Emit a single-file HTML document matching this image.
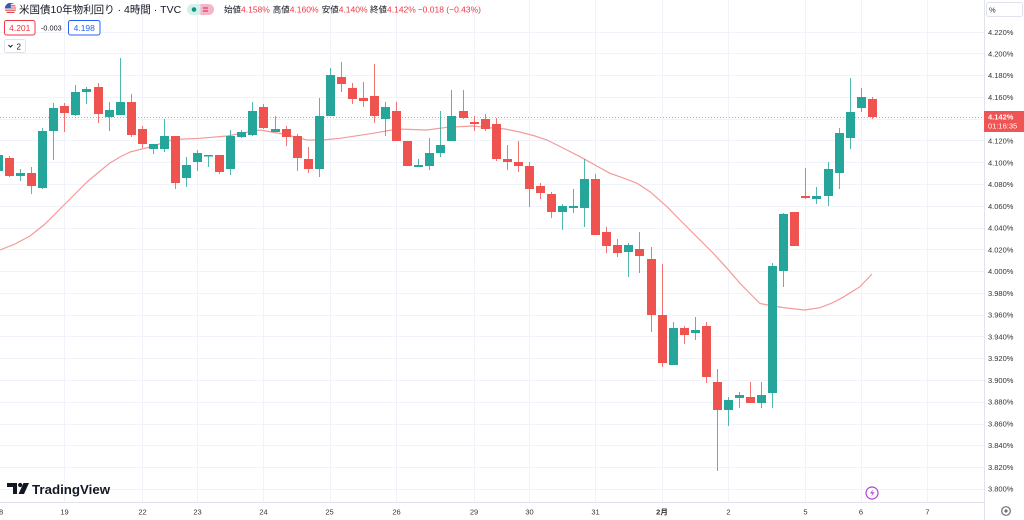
<!DOCTYPE html>
<html><head><meta charset="utf-8"><style>
html,body{margin:0;padding:0;background:#fff;}
body{width:1024px;height:520px;overflow:hidden;}
svg{display:block;}
text{font-family:"Liberation Sans","Noto Sans CJK JP",sans-serif;}
</style></head><body>
<svg width="1024" height="520" viewBox="0 0 1024 520" xmlns="http://www.w3.org/2000/svg">
<rect width="1024" height="520" fill="#fff"/>
<!-- grid -->
<g stroke="#f0f3fa" stroke-width="1" fill="none">
<path d="M0 32.5H984M0 53.5H984M0 75.5H984M0 97.5H984M0 119.5H984M0 140.5H984M0 162.5H984M0 184.5H984M0 206.5H984M0 228.5H984M0 249.5H984M0 271.5H984M0 293.5H984M0 315.5H984M0 336.5H984M0 358.5H984M0 380.5H984M0 402.5H984M0 424.5H984M0 445.5H984M0 467.5H984M0 489.5H984"/>
<path d="M64.5 0V502M142.5 0V502M197.5 0V502M263.5 0V502M330.5 0V502M396.5 0V502M474.5 0V502M529.5 0V502M595.5 0V502M662.5 0V502M728.5 0V502M805.5 0V502M861.5 0V502M927.5 0V502"/>
</g>
<!-- MA line -->
<polyline fill="none" stroke="#f49a9a" stroke-width="1.2" points="0,250 15,244 30,236 45,224 60,209 73,196 87,182 100,171 110,163 120,157 130,152 150,147 173,139.5 200,138.3 227,136 250,131.7 260,130 283,134 307,140 323,140 340,138.3 373,133.3 397,129 427,130 447,127.3 473,126 490,127.7 505,129 520,132 535,136 547,140 563,148 580,156.7 595,165 610,173.3 625,178.5 637,183.3 650,191.7 667,206.7 680,220 693,233 713,253 727,268.3 740,283.3 750,293.5 760,303.5 773,306 783,307.5 795,309 805,310 820,307.7 832,303 843,297.3 860,286.7 872,274"/>
<!-- price line -->
<path d="M0 117.5H984" stroke="#f5949b" stroke-width="1" stroke-dasharray="1 2"/>
<!-- wicks -->
<path stroke="#26a69a" stroke-width="1" stroke-opacity="0.8" fill="none" d="M-1.5 152V174M20.5 169V181M42.5 128V189M53.5 103V160M75.5 85V116M86.5 87V104M109.5 102V131M120.5 58V115M153.5 144V154M164.5 119V152M186.5 157V187M197.5 150V171M208.5 155V167M230.5 130V175M241.5 130V138M252.5 102V136M275.5 116V132M319.5 98V177M330.5 68V116M385.5 102V136M418.5 159V167M429.5 138V170M440.5 111V157M451.5 90V141M562.5 204V230M573.5 189V213M584.5 159V227M628.5 243V277M673.5 322V365M695.5 317V340M728.5 397V426M739.5 392V408M761.5 382V408M772.5 263V408M783.5 213V287M816.5 187V204M828.5 162V206M839.5 128V189M850.5 78V149M861.5 88V112"/>
<path stroke="#ef5350" stroke-width="1" stroke-opacity="0.8" fill="none" d="M9.5 156V177M31.5 167V194M64.5 103V132M98.5 83V123M131.5 94V137M142.5 126V148M175.5 136V189M219.5 155V174M263.5 104V129M286.5 126V146M297.5 134V171M308.5 147V173M341.5 62V92M352.5 83V104M363.5 82V107M374.5 64V123M396.5 102V141M407.5 141V166M463.5 90V119M474.5 116V131M485.5 114V131M496.5 118V161M507.5 145V170M518.5 141V172M529.5 162V207M540.5 183V199M551.5 192V218M595.5 174V235M606.5 227V253M617.5 239V257M639.5 232V273M651.5 247V332M662.5 264V367M684.5 326V344M706.5 322V383M717.5 369V471M750.5 382V403M794.5 212V246M805.5 168V199M872.5 97V119"/>
<!-- green bodies -->
<g fill="#26a69a">
<rect x="-6" y="155" width="9" height="16"/>
<rect x="16" y="173" width="9" height="3"/>
<rect x="38" y="131" width="9" height="57"/>
<rect x="49" y="108" width="9" height="23"/>
<rect x="71" y="92" width="9" height="23"/>
<rect x="82" y="89" width="9" height="3"/>
<rect x="105" y="110" width="9" height="7"/>
<rect x="116" y="102" width="9" height="13"/>
<rect x="149" y="144" width="9" height="5"/>
<rect x="160" y="136" width="9" height="13"/>
<rect x="182" y="165" width="9" height="13"/>
<rect x="193" y="153" width="9" height="9"/>
<rect x="204" y="155" width="9" height="1.5"/>
<rect x="226" y="136" width="9" height="33"/>
<rect x="237" y="132" width="9" height="5"/>
<rect x="248" y="111" width="9" height="24"/>
<rect x="271" y="129" width="9" height="3"/>
<rect x="315" y="116" width="9" height="53"/>
<rect x="326" y="75" width="9" height="41"/>
<rect x="381" y="107" width="9" height="12"/>
<rect x="414" y="165" width="9" height="2"/>
<rect x="425" y="153" width="9" height="13"/>
<rect x="436" y="145" width="9" height="8"/>
<rect x="447" y="116" width="9" height="25"/>
<rect x="558" y="206" width="9" height="6"/>
<rect x="569" y="206" width="9" height="2"/>
<rect x="580" y="179" width="9" height="29"/>
<rect x="624" y="245" width="9" height="7"/>
<rect x="669" y="328" width="9" height="37"/>
<rect x="691" y="330" width="9" height="3"/>
<rect x="724" y="400" width="9" height="10"/>
<rect x="735" y="395" width="9" height="3"/>
<rect x="757" y="395" width="9" height="8"/>
<rect x="768" y="266" width="9" height="127"/>
<rect x="779" y="214" width="9" height="57"/>
<rect x="812" y="196" width="9" height="3"/>
<rect x="824" y="169" width="9" height="27"/>
<rect x="835" y="133" width="9" height="40"/>
<rect x="846" y="112" width="9" height="26"/>
<rect x="857" y="97" width="9" height="11"/>
</g>
<!-- red bodies -->
<g fill="#ef5350">
<rect x="5" y="158" width="9" height="18"/>
<rect x="27" y="173" width="9" height="13"/>
<rect x="60" y="106" width="9" height="7"/>
<rect x="94" y="87" width="9" height="27"/>
<rect x="127" y="102" width="9" height="33"/>
<rect x="138" y="129" width="9" height="15"/>
<rect x="171" y="136" width="9" height="47"/>
<rect x="215" y="155" width="9" height="17"/>
<rect x="259" y="107" width="9" height="21"/>
<rect x="282" y="129" width="9" height="8"/>
<rect x="293" y="136" width="9" height="22"/>
<rect x="304" y="159" width="9" height="10"/>
<rect x="337" y="77" width="9" height="7"/>
<rect x="348" y="88" width="9" height="11"/>
<rect x="359" y="98" width="9" height="3"/>
<rect x="370" y="96" width="9" height="20"/>
<rect x="392" y="111" width="9" height="30"/>
<rect x="403" y="141" width="9" height="25"/>
<rect x="459" y="111" width="9" height="7"/>
<rect x="470" y="122" width="9" height="2"/>
<rect x="481" y="119" width="9" height="10"/>
<rect x="492" y="124" width="9" height="35"/>
<rect x="503" y="159" width="9" height="3"/>
<rect x="514" y="162" width="9" height="4"/>
<rect x="525" y="166" width="9" height="23"/>
<rect x="536" y="186" width="9" height="7"/>
<rect x="547" y="194" width="9" height="18"/>
<rect x="591" y="179" width="9" height="56"/>
<rect x="602" y="232" width="9" height="14"/>
<rect x="613" y="245" width="9" height="8"/>
<rect x="635" y="249" width="9" height="7"/>
<rect x="647" y="259" width="9" height="56"/>
<rect x="658" y="315" width="9" height="48"/>
<rect x="680" y="328" width="9" height="7"/>
<rect x="702" y="326" width="9" height="51"/>
<rect x="713" y="382" width="9" height="28"/>
<rect x="746" y="397" width="9" height="6"/>
<rect x="790" y="212" width="9" height="34"/>
<rect x="801" y="196" width="9" height="2"/>
<rect x="868" y="99" width="9" height="18"/>
</g>
<!-- axes lines -->
<path d="M0 502.5H984M984.5 0V520" stroke="#e0e3eb" stroke-width="1"/>
<!-- right axis labels -->
<g font-size="7.5" fill="#333">
<text x="988" y="35">4.220%</text>
<text x="988" y="56.5">4.200%</text>
<text x="988" y="78.2">4.180%</text>
<text x="988" y="100">4.160%</text>
<text x="988" y="143.5">4.120%</text>
<text x="988" y="165.3">4.100%</text>
<text x="988" y="187">4.080%</text>
<text x="988" y="208.8">4.060%</text>
<text x="988" y="230.5">4.040%</text>
<text x="988" y="252.3">4.020%</text>
<text x="988" y="274.1">4.000%</text>
<text x="988" y="295.8">3.980%</text>
<text x="988" y="317.6">3.960%</text>
<text x="988" y="339.3">3.940%</text>
<text x="988" y="361.1">3.920%</text>
<text x="988" y="382.9">3.900%</text>
<text x="988" y="404.6">3.880%</text>
<text x="988" y="426.4">3.860%</text>
<text x="988" y="448.1">3.840%</text>
<text x="988" y="469.9">3.820%</text>
<text x="988" y="491.7">3.800%</text>
</g>
<rect x="986.5" y="2.5" width="36" height="14" rx="2" fill="#fff" stroke="#e0e3eb"/>
<text x="989" y="12.5" font-size="7.5" fill="#333">%</text>
<!-- price label -->
<rect x="984" y="111" width="40" height="21" fill="#f05454"/>
<text x="988" y="119.5" font-size="7.5" font-weight="bold" fill="#fff">4.142%</text>
<text x="988" y="128.5" font-size="7.5" fill="#fff">01:16:35</text>
<!-- bottom axis labels -->
<g font-size="7.5" fill="#333" text-anchor="middle">
<text x="-1" y="514.5">18</text>
<text x="64.5" y="514.5">19</text>
<text x="142.5" y="514.5">22</text>
<text x="197.5" y="514.5">23</text>
<text x="263.5" y="514.5">24</text>
<text x="329.5" y="514.5">25</text>
<text x="396.5" y="514.5">26</text>
<text x="474" y="514.5">29</text>
<text x="529.5" y="514.5">30</text>
<text x="595.5" y="514.5">31</text>
<text x="662" y="514.5" font-weight="bold">2月</text>
<text x="728.5" y="514.5">2</text>
<text x="805.5" y="514.5">5</text>
<text x="861" y="514.5">6</text>
<text x="927.5" y="514.5">7</text>
</g>
<!-- settings icon -->
<circle cx="1006" cy="511" r="4.3" fill="none" stroke="#6a6d78" stroke-width="1.2"/>
<circle cx="1006" cy="511" r="1.6" fill="#6a6d78"/>
<!-- lightning icon -->
<circle cx="872" cy="493" r="6" fill="#fff" stroke="#b042d1" stroke-width="1.2"/>
<path d="M873.5 489 L870 493.5 H872.5 L871 497 L874.5 492.3 H872 Z" fill="#b042d1"/>
<!-- TV logo -->
<path d="M7 483H17V494H13V487H7Z" fill="#131722"/>
<circle cx="20.2" cy="485" r="2.1" fill="#131722"/>
<path d="M23.5 483H29L24 494H18.5Z" fill="#131722"/>
<text x="32" y="494" font-size="13.3" font-weight="bold" fill="#131722">TradingView</text>
<!-- header -->
<defs><clipPath id="fc"><circle cx="10.5" cy="8.5" r="5.6"/></clipPath></defs>
<g clip-path="url(#fc)">
<rect x="4" y="2" width="14" height="14" fill="#fff"/>
<path d="M4 3.6H18M4 5.8H18M4 8H18M4 10.2H18M4 12.4H18M4 14.6H18" stroke="#e0424b" stroke-width="1.1"/>
<rect x="4" y="2" width="6.8" height="6.5" fill="#3b5ba9"/>
</g>
<text x="19" y="13" font-size="10.5" fill="#131722">米国債10年物利回り · 4時間 · TVC</text>
<rect x="187" y="4" width="27" height="11" rx="5.5" fill="#d6efe9"/>
<path d="M200.5 4H208.5A5.5 5.5 0 0 1 208.5 15H200.5Z" fill="#f6b6c8"/>
<circle cx="194" cy="9.5" r="2.3" fill="#089981"/>
<path d="M203 8H208M203 11H208" stroke="#d81b60" stroke-width="1"/>
<g font-size="8.5">
<text x="224" y="12.5" fill="#131722">始値<tspan fill="#f23645">4.158%</tspan></text>
<text x="272.7" y="12.5" fill="#131722">高値<tspan fill="#f23645">4.160%</tspan></text>
<text x="321.7" y="12.5" fill="#131722">安値<tspan fill="#f23645">4.140%</tspan></text>
<text x="370" y="12.5" fill="#131722">終値<tspan fill="#f23645">4.142%</tspan></text>
<text x="417.7" y="12.5" fill="#f23645">−0.018 (−0.43%)</text>
</g>
<rect x="4.5" y="20.5" width="30.5" height="14.5" rx="2" fill="#fff" stroke="#f23645"/>
<text x="19.75" y="30.8" font-size="8.5" fill="#f23645" text-anchor="middle">4.201</text>
<text x="41" y="30.5" font-size="7.3" fill="#131722">-0.003</text>
<rect x="68.5" y="20.5" width="31.5" height="14.5" rx="2" fill="#fff" stroke="#2962ff"/>
<text x="84.25" y="30.8" font-size="8.5" fill="#2962ff" text-anchor="middle">4.198</text>
<rect x="4.5" y="39.5" width="21" height="13" rx="2" fill="#fff" stroke="#e0e3eb"/>
<path d="M8.5 45 L10.5 47 L12.5 45" fill="none" stroke="#131722" stroke-width="1"/>
<text x="16.5" y="49.5" font-size="8" fill="#131722">2</text>
</svg>
</body></html>
